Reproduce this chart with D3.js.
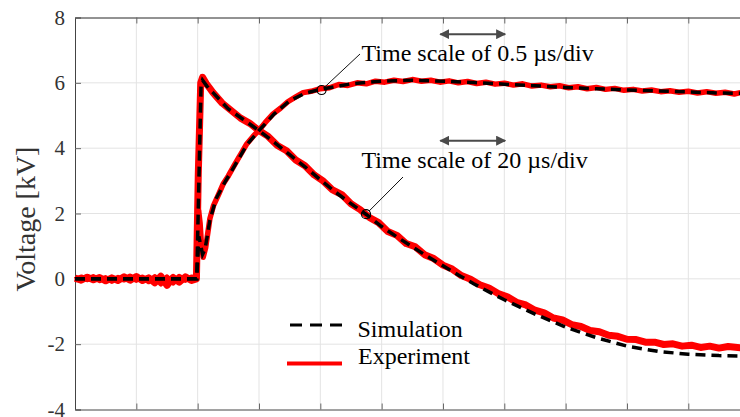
<!DOCTYPE html>
<html>
<head>
<meta charset="utf-8">
<script src="https://cdn.jsdelivr.net/npm/d3@7"></script>
<style>
  html, body { margin: 0; padding: 0; background: #fff; }
  svg { display: block; }
</style>
</head>
<body>
<div id="chart"></div>
<script>
// x in grid divisions, y in kV
const Y_TICKS = [-4, -2, 0, 2, 4, 6, 8];
const X_TICKS = [0, 1, 2, 3, 4, 5, 6, 7, 8, 9, 10, 11];

// slow trace (20 us/div) - experiment
const exp1T = [0.00, 0.10, 0.20, 0.30, 0.40, 0.50, 0.60, 0.70, 0.80, 0.90, 1.00, 1.10, 1.20, 1.30, 1.40, 1.50, 1.60, 1.70, 1.80, 1.90, 1.98,
  2.01, 2.05, 2.08, 2.14, 2.25, 2.40, 2.55, 2.70, 2.85, 3.00, 3.15, 3.30, 3.45, 3.60, 3.75, 3.90, 4.05, 4.20, 4.35, 4.50,
  4.65, 4.80, 4.95, 5.10, 5.25, 5.40, 5.55, 5.70, 5.85, 6.00, 6.15, 6.30, 6.45, 6.60, 6.75, 6.90, 7.05, 7.20, 7.35, 7.50,
  7.65, 7.80, 7.95, 8.10, 8.25, 8.40, 8.55, 8.70, 8.85, 9.00, 9.15, 9.30, 9.45, 9.60, 9.75, 9.90, 10.05, 10.20, 10.35, 10.50, 10.65, 10.85];
const exp1V = [0.02, -0.04, 0.05, -0.03, 0.04, -0.06, 0.03, -0.05, 0.06, -0.04, 0.07, -0.05, 0.03, -0.12, 0.08, -0.20, 0.04, -0.10, 0.06, -0.05, 0.00,
  3.20, 6.00, 6.17, 5.98, 5.70, 5.38, 5.15, 4.92, 4.76, 4.54, 4.36, 4.08, 3.92, 3.64, 3.46, 3.18, 2.99, 2.72, 2.58, 2.30,
  2.12, 1.88, 1.72, 1.45, 1.33, 1.08, 0.98, 0.74, 0.62, 0.42, 0.30, 0.10, -0.01, -0.18, -0.28, -0.45, -0.55, -0.72, -0.80, -0.96,
  -1.04, -1.20, -1.26, -1.40, -1.46, -1.58, -1.62, -1.73, -1.76, -1.85, -1.86, -1.94, -1.94, -2.01, -1.99, -2.06, -2.03, -2.10, -2.06, -2.12, -2.07, -2.11];

// slow trace - simulation
const sim1T = [0.00, 1.985, 2.02, 2.055, 2.08, 2.15, 2.25, 2.50, 2.75, 3.00, 3.25, 3.50, 3.75, 4.00, 4.25, 4.50, 4.75, 5.00, 5.25,
  5.50, 5.75, 6.00, 6.25, 6.50, 6.75, 7.00, 7.50, 8.00, 8.50, 9.00, 9.50, 10.00, 10.50, 10.85];
const sim1V = [0.00, 0.00, 3.00, 5.90, 6.08, 5.90, 5.70, 5.20, 4.87, 4.54, 4.18, 3.80, 3.43, 3.03, 2.65, 2.30, 1.97, 1.60, 1.28,
  0.98, 0.68, 0.40, 0.12, -0.15, -0.40, -0.64, -1.08, -1.48, -1.80, -2.06, -2.22, -2.31, -2.35, -2.36];

// fast trace (0.5 us/div) - experiment
const exp2T = [0.00, 0.10, 0.20, 0.30, 0.40, 0.50, 0.60, 0.70, 0.80, 0.90, 1.00, 1.10, 1.20, 1.30, 1.40, 1.50, 1.60, 1.70, 1.80, 1.90, 1.98,
  2.015, 2.04, 2.06, 2.09, 2.13, 2.20, 2.26, 2.35, 2.42, 2.50, 2.58, 2.66, 2.73, 2.80, 2.90, 3.00, 3.10, 3.23, 3.35, 3.47, 3.60, 3.72, 3.85,
  4.00, 4.15, 4.30, 4.45, 4.60, 4.75, 4.90, 5.05, 5.20, 5.35, 5.50, 5.65, 5.80, 5.95, 6.10, 6.25, 6.40, 6.55, 6.70, 6.85, 7.00,
  7.15, 7.30, 7.45, 7.60, 7.75, 7.90, 8.05, 8.20, 8.35, 8.50, 8.65, 8.80, 8.95, 9.10, 9.25, 9.40, 9.55, 9.70, 9.85, 10.00,
  10.15, 10.30, 10.45, 10.60, 10.75, 10.85];
const exp2V = [-0.03, 0.05, -0.02, 0.06, -0.05, 0.03, -0.07, 0.04, -0.03, 0.08, -0.04, 0.05, -0.08, 0.06, -0.15, 0.05, -0.12, 0.07, -0.04, 0.05, 0.00,
  2.10, 1.70, 1.10, 0.66, 0.95, 1.85, 2.25, 2.62, 2.92, 3.15, 3.42, 3.68, 3.90, 4.13, 4.35, 4.55, 4.78, 5.05, 5.22, 5.42, 5.57, 5.70, 5.74,
  5.82, 5.85, 5.95, 5.92, 6.00, 5.97, 6.05, 6.02, 6.08, 6.04, 6.10, 6.05, 6.08, 6.02, 6.06, 6.00, 6.04, 5.98, 6.02, 5.96, 5.99,
  5.93, 5.97, 5.90, 5.93, 5.88, 5.91, 5.85, 5.88, 5.82, 5.86, 5.80, 5.83, 5.77, 5.80, 5.75, 5.78, 5.73, 5.76, 5.71, 5.74,
  5.69, 5.73, 5.68, 5.71, 5.66, 5.70];

// fast trace - simulation
const sim2T = [0.00, 1.985, 2.02, 2.08, 2.12, 2.20, 2.30, 2.45, 2.60, 2.80, 3.00, 3.25, 3.50, 3.75, 4.00, 4.50, 5.00, 5.50,
  6.00, 6.50, 7.00, 7.50, 8.00, 8.50, 9.00, 9.50, 10.00, 10.50, 10.85];
const sim2V = [0.00, 0.00, 1.30, 0.75, 0.90, 1.80, 2.45, 2.98, 3.45, 4.10, 4.54, 5.05, 5.45, 5.68, 5.80, 5.97, 6.05, 6.08,
  6.05, 6.01, 5.96, 5.91, 5.86, 5.82, 5.78, 5.75, 5.72, 5.69, 5.68];

// annotation markers [x, y]
const markerPts = [[4.02, 5.78], [4.745, 1.98]];
const noteText = ["Time scale of 0.5 \u00b5s/div", "Time scale of 20 \u00b5s/div"];
// arrows: [x0, x1, y]
const arrowSpans = [[5.94, 7.03, 7.49], [5.94, 7.03, 4.23]];

const WIDTH = 740;
const HEIGHT = 417;
const LEFT = 75;
const TOP = 17.5;
const BOTTOM = 409.5;
const DIV = 61.33;
const SERIF = '"Liberation Serif"';

const X_SCALE = d3.scaleLinear().domain([0, 11]).range([LEFT, LEFT + 11 * DIV]);
const Y_SCALE = d3.scaleLinear().domain([-4, 8]).range([BOTTOM, TOP]);

let svg = d3.select('#chart')
            .append('svg')
            .attr('width', WIDTH)
            .attr('height', HEIGHT);

// grid
svg.append('g')
   .selectAll('line')
   .data(X_TICKS.slice(1))
   .enter()
   .append('line')
   .attr('x1', d => X_SCALE(d)).attr('x2', d => X_SCALE(d))
   .attr('y1', TOP).attr('y2', BOTTOM)
   .attr('stroke', '#e3e3e3')
   .attr('stroke-width', 1);

svg.append('g')
   .selectAll('line')
   .data(Y_TICKS.slice(1, -1))
   .enter()
   .append('line')
   .attr('x1', LEFT).attr('x2', WIDTH)
   .attr('y1', d => Y_SCALE(d)).attr('y2', d => Y_SCALE(d))
   .attr('stroke', '#e3e3e3')
   .attr('stroke-width', 1);

// axes
const Y_AXIS = d3.axisLeft(Y_SCALE).tickValues(Y_TICKS).tickSize(-6).tickPadding(10).tickFormat(d => String(d));
const X_AXIS = d3.axisBottom(X_SCALE).tickValues(X_TICKS).tickSize(-6).tickFormat('');
const X_TOP = d3.axisTop(X_SCALE).tickValues(X_TICKS).tickSize(-6).tickFormat('');

function styleAxis(g) {
  g.attr('font-family', SERIF).attr('font-size', 21);
  g.select('.domain').attr('stroke', '#444');
  g.selectAll('.tick line').attr('stroke', '#666');
  g.selectAll('.tick text').attr('fill', '#333');
}

svg.append('g')
   .attr('transform', 'translate(0,' + BOTTOM + ')')
   .call(X_AXIS)
   .call(styleAxis);

svg.append('g')
   .attr('transform', 'translate(0,' + TOP + ')')
   .call(X_TOP)
   .call(styleAxis)
   .select('.domain').attr('stroke', '#262626');

svg.append('g')
   .attr('transform', 'translate(' + LEFT + ',0)')
   .call(Y_AXIS)
   .call(styleAxis);

svg.append('text')
   .attr('transform', 'translate(35,219) rotate(-90)')
   .attr('text-anchor', 'middle')
   .style('font-family', SERIF)
   .style('font-size', '28px')
   .attr('fill', '#333')
   .text('Voltage [kV]');

// traces
const line = d3.line()
               .x(d => X_SCALE(d[0]))
               .y(d => Y_SCALE(d[1]));

const zip = (t, v) => t.map((d, i) => [d, v[i]]);

[[zip(exp1T, exp1V), 7], [zip(exp2T, exp2V), 5.5]].forEach(s => {
  svg.append('path')
     .attr('d', line(s[0]))
     .attr('fill', 'none')
     .attr('stroke', '#ff0000')
     .attr('stroke-width', s[1])
     .attr('stroke-linejoin', 'round');
});

[zip(sim1T, sim1V), zip(sim2T, sim2V)].forEach(pts => {
  svg.append('path')
     .attr('d', line(pts))
     .attr('fill', 'none')
     .attr('stroke', '#000')
     .attr('stroke-width', 3.5)
     .attr('stroke-dasharray', '10,6');
});

// annotations
const noteX = 361.5;
const noteY = [61, 168];
const leaderEnd = [[360, 54], [403, 177]];

markerPts.forEach((p, i) => {
  let cx = X_SCALE(p[0]);
  let cy = Y_SCALE(p[1]);
  let dx = leaderEnd[i][0] - cx;
  let dy = leaderEnd[i][1] - cy;
  let len = Math.sqrt(dx * dx + dy * dy);
  svg.append('line')
     .attr('x1', cx + dx / len * 4.5).attr('y1', cy + dy / len * 4.5)
     .attr('x2', leaderEnd[i][0]).attr('y2', leaderEnd[i][1])
     .attr('stroke', '#111')
     .attr('stroke-width', 1);
  svg.append('circle')
     .attr('cx', cx).attr('cy', cy)
     .attr('r', 4.5)
     .attr('fill', 'none')
     .attr('stroke', '#000')
     .attr('stroke-width', 1.2);
  svg.append('text')
     .attr('x', noteX).attr('y', noteY[i])
     .style('font-family', SERIF)
     .style('font-size', '24px')
     .attr('fill', '#000')
     .text(noteText[i]);
});

svg.append('defs')
   .append('marker')
   .attr('id', 'head')
   .attr('viewBox', '0 0 10 10')
   .attr('refX', 9).attr('refY', 5)
   .attr('markerWidth', 5).attr('markerHeight', 5)
   .attr('markerUnits', 'strokeWidth')
   .attr('orient', 'auto-start-reverse')
   .append('path')
   .attr('d', 'M0,0 L10,5 L0,10 Z')
   .attr('fill', '#4a4a4a');

arrowSpans.forEach(a => {
  svg.append('line')
     .attr('x1', X_SCALE(a[0]) + 1).attr('x2', X_SCALE(a[1]) - 1)
     .attr('y1', Y_SCALE(a[2])).attr('y2', Y_SCALE(a[2]))
     .attr('stroke', '#4a4a4a')
     .attr('stroke-width', 2)
     .attr('marker-start', 'url(#head)')
     .attr('marker-end', 'url(#head)');
});

// legend
let legend = svg.append('g');
legend.append('line')
      .attr('x1', 290).attr('x2', 342)
      .attr('y1', 325).attr('y2', 325)
      .attr('stroke', '#000')
      .attr('stroke-width', 3)
      .attr('stroke-dasharray', '12,8');
legend.append('line')
      .attr('x1', 287).attr('x2', 342)
      .attr('y1', 363.5).attr('y2', 363.5)
      .attr('stroke', '#ff0000')
      .attr('stroke-width', 4);
legend.append('text')
      .attr('x', 357.5).attr('y', 336.5)
      .style('font-family', SERIF)
      .style('font-size', '24px')
      .text('Simulation');
legend.append('text')
      .attr('x', 358).attr('y', 363.5)
      .style('font-family', SERIF)
      .style('font-size', '24px')
      .text('Experiment');
</script>
</body>
</html>
